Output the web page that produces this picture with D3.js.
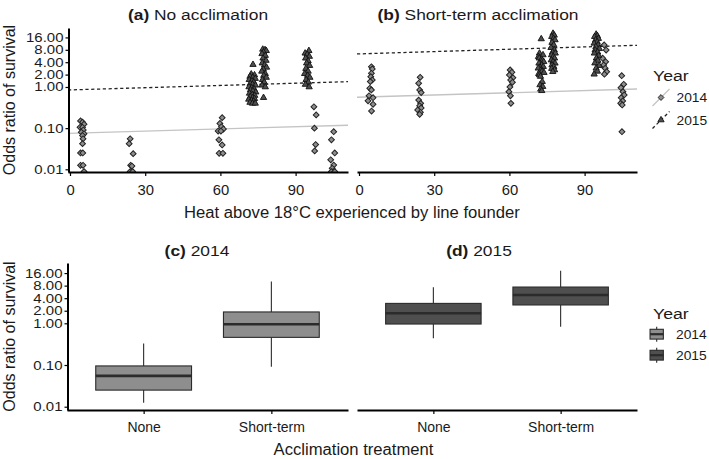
<!DOCTYPE html>
<html><head><meta charset="utf-8">
<script src="https://cdn.jsdelivr.net/npm/d3@7"></script>
<style>
body{margin:0;background:#fff}
svg{display:block}
text{font-family:"Liberation Sans",Arial,Helvetica,sans-serif;fill:#1a1a1a}
</style>
</head><body><svg id="chart" width="709" height="459"></svg>
<script>
// ---------------- DATA ----------------
const years = ["2014", "2015"];
const treatments = ["None", "Short-term"];
const heatTicks = [0, 30, 60, 90];
const oddsTicks = [0.01, 0.1, 1, 2, 4, 8, 16];
const oddsTickLabels = ["0.01", "0.10", "1.00", "2.00", "4.00", "8.00", "16.00"];

// (a) No acclimation — [heat, odds ratio]
const noAcc2014 = [
  [4.2,0.15],[5.0,0.14],[5.6,0.125],[4.0,0.105],[5.0,0.105],[5.3,0.09],[4.5,0.08],[5.6,0.073],
  [5.0,0.066],[5.2,0.055],[5.0,0.042],[4.2,0.025],[5.1,0.025],[4.2,0.0125],[5.2,0.0125],[5.6,0.0088],
  [24.0,0.055],[23.6,0.042],[25.2,0.024],[24.2,0.0125],[24.7,0.012],[24.0,0.0088],[25.0,0.0088],
  [60.7,0.18],[59.8,0.13],[60.4,0.108],[61.2,0.095],[59.1,0.085],[60.2,0.085],[59.4,0.052],
  [60.7,0.039],[59.5,0.0245],[61.0,0.0245],
  [97.3,0.33],[98.2,0.21],[97.5,0.1],[98.0,0.04],[97.6,0.028],
  [105.2,0.082],[104.3,0.052],[105.6,0.025],[104.0,0.017],[105.2,0.0127],[104.6,0.0106],
  [105.0,0.0088],[104.3,0.0088],[105.6,0.0088]
];
const noAcc2015 = [
  [73.0,3.5],[72.3,2.05],[73.6,1.95],[71.8,1.8],[72.9,1.7],[73.9,1.6],[71.5,1.5],[72.6,1.4],
  [73.3,1.3],[71.9,1.2],[72.8,1.15],[74.0,1.1],[71.4,1.0],[72.5,0.95],[73.4,0.9],[72.0,0.85],
  [73.0,0.8],[74.1,0.75],[71.6,0.7],[72.7,0.65],[73.7,0.62],[71.9,0.58],[72.9,0.55],[73.6,0.52],
  [71.3,0.5],[72.4,0.47],[73.3,0.45],[71.8,0.42],[72.8,0.4],[73.9,0.4],
  [76.9,8.2],[77.8,8.0],[78.3,7.6],[77.2,7.0],[76.6,6.4],[77.9,5.8],[77.0,5.0],[78.2,4.4],
  [76.7,3.8],[77.6,3.4],[78.4,3.0],[77.1,2.7],[76.5,2.4],[77.9,2.1],[77.3,1.9],[78.3,1.7],
  [76.8,1.5],[77.5,1.3],[76.6,1.1],[77.9,1.0],[77.2,0.55],
  [95.3,7.6],[93.8,6.6],[94.6,6.2],[95.5,5.5],[94.0,5.0],[95.0,4.3],[94.4,3.8],[95.6,3.3],
  [94.1,2.8],[95.0,2.4],[93.6,2.1],[94.8,1.9],[95.7,1.7],[94.2,1.5],[95.1,1.3],[93.9,1.15],[95.4,1.0]
];
// (b) Short-term acclimation — [heat, odds ratio]
const shortAcc2014 = [
  [4.95,3.1],[5.3,2.74],[4.95,2.15],[4.7,1.78],[5.3,1.48],[4.5,1.35],[4.3,0.93],[4.95,0.85],
  [4.0,0.61],[5.6,0.55],[3.6,0.46],[5.6,0.38],[5.0,0.26],
  [24.4,1.72],[23.8,1.23],[24.2,0.85],[24.8,0.73],[23.8,0.48],[24.6,0.40],[24.2,0.35],[24.8,0.31],
  [23.4,0.276],[24.5,0.243],[24.2,0.217],
  [60.3,2.59],[61.0,2.28],[60.0,1.96],[61.4,1.68],[60.5,1.48],[61.2,1.3],[60.2,1.0],[59.8,0.77],
  [60.4,0.61],[60.6,0.40],
  [97.8,10.5],[98.6,7.9],[97.2,5.0],[98.4,4.1],[97.6,3.43],[98.2,2.85],[98.8,2.35],[97.9,2.04],
  [104.8,1.88],[105.6,1.16],[104.5,0.96],[105.3,0.77],[105.8,0.64],[104.6,0.55],[105.2,0.457],
  [104.4,0.40],[105.0,0.365],[104.9,0.082]
];
const shortAcc2015 = [
  [72.7,14.7],[72.0,6.6],[73.4,6.0],[71.6,5.45],[71.9,5.0],[72.8,4.7],[73.2,4.4],[73.7,4.1],
  [71.8,3.77],[72.9,3.43],[73.5,3.12],[72.2,3.0],[71.5,2.85],[72.6,2.59],[73.0,2.4],[73.8,2.23],
  [71.7,2.1],[72.0,1.96],[72.4,1.8],[73.1,1.35],[72.2,1.12],[73.3,1.02],[72.5,0.88],[72.9,0.81],
  [77.4,20],[77.9,18],[76.9,16.7],[77.6,15],[78.2,13.9],[77.0,12],[77.7,10.5],[76.6,9],
  [77.9,7.9],[77.2,7],[78.3,6.6],[76.8,6],[77.5,5.45],[78.0,5],[76.7,4.5],[77.4,4.1],
  [78.2,3.77],[77.0,3.4],[77.7,3.12],[76.9,2.8],[78.0,2.59],[77.3,2.35],
  [94.6,19],[95.1,17.5],[94.0,16.7],[95.5,15],[94.4,13.9],[95.0,12.5],[93.8,11.5],[95.4,10.5],
  [94.5,9.5],[95.9,8.5],[94.2,7.9],[95.2,7],[93.9,6.6],[95.6,5.8],[94.7,5],[95.3,4.4],
  [94.1,3.8],[95.8,3.3],[94.6,2.85],[95.1,2.4],[93.8,2.04]
];
// fitted lines: log10(odds) = intercept + slope * heat, per year [2014, 2015]
const noAccIntercept = [-1.1236, -0.0716];
const noAccSlope = [0.00175, 0.00181];
const shortAccIntercept = [-0.2486, 0.8035];
const shortAccSlope = [0.0018, 0.00189];

// box plot stats per treatment [None, Short-term]: [lowWhisker, q1, median, q3, highWhisker]
const box2014 = [[0.0125, 0.025, 0.055, 0.095, 0.33], [0.091, 0.46, 0.95, 1.87, 10]];
const box2015 = [[0.44, 0.96, 1.74, 3.0, 7.3], [0.83, 2.75, 4.77, 7.4, 18.3]];

// ---------------- STYLE ----------------
const FILL_2014 = "#8e8e8e", FILL_2015 = "#4f4f4f", EDGE = "#2b2b2b";
const LINE_2014 = "#c4c4c4", LINE_2015 = "#222";

const svg = d3.select("#chart");

function label(g, x, y, parts, size, sx, anchor, rotate) {
  const t = g.append("text")
    .attr("transform", `translate(${x},${y})` + (rotate ? ` rotate(${rotate})` : "") + ` scale(${sx},1)`)
    .attr("text-anchor", anchor || "start")
    .style("font-size", size + "px");
  parts.forEach(p => t.append("tspan").style("font-weight", p[1] || "normal").text(p[0]));
  return t;
}
function styleAxis(ax, size, sx) {
  ax.select(".domain").attr("stroke", "#000").attr("stroke-width", 2);
  ax.selectAll(".tick line").attr("stroke", "#000").attr("stroke-width", 1.2);
  ax.selectAll(".tick text").style("font-size", size + "px").attr("fill", "#1a1a1a")
    .style("font-family", '"Liberation Sans",Arial,sans-serif')
    .each(function () {
      const el = d3.select(this);
      const x = +el.attr("x") || 0;
      el.attr("x", x / sx).attr("transform", `scale(${sx},1)`);
    });
}

const diamond = d3.symbol().type(d3.symbolSquare).size(17)();
const triangle = d3.symbol().type(d3.symbolTriangle).size(17)();

// ---------------- TOP PANELS ----------------
const yTop = d3.scaleLog().domain([0.0086, 27.1]).range([172, 28]);
const heatDomain = [-0.8, 110.9];
const topPanels = [
  { x0: 68, x1: 348, d14: noAcc2014, d15: noAcc2015, ic: noAccIntercept, sl: noAccSlope,
    title: [["(a) ", "bold"], ["No acclimation"]], tx: 198, yAxis: true, id: "a" },
  { x0: 357, x1: 637, d14: shortAcc2014, d15: shortAcc2015, ic: shortAccIntercept, sl: shortAccSlope,
    title: [["(b) ", "bold"], ["Short-term acclimation"]], tx: 478, yAxis: false, id: "b" }
];

topPanels.forEach(p => {
  const x = d3.scaleLinear().domain(heatDomain).range([p.x0, p.x1]);
  const g = svg.append("g");
  svg.append("clipPath").attr("id", "clip" + p.id).append("rect")
    .attr("x", p.x0).attr("y", 28).attr("width", p.x1 - p.x0).attr("height", 172 - 28);
  const pg = g.append("g").attr("clip-path", `url(#clip${p.id})`);
  // fitted lines
  years.forEach((yr, i) => {
    const pts = heatDomain.map(h => [h, Math.pow(10, p.ic[i] + p.sl[i] * h)]);
    pg.append("path")
      .attr("d", d3.line().x(d => x(d[0])).y(d => yTop(d[1]))(pts))
      .attr("fill", "none")
      .attr("stroke", i === 0 ? LINE_2014 : LINE_2015)
      .attr("stroke-width", 1.3)
      .attr("stroke-dasharray", i === 0 ? null : "3.2,2.6");
  });
  // points
  pg.selectAll(".p14").data(p.d14).join("path")
    .attr("d", diamond)
    .attr("transform", d => `translate(${x(d[0])},${yTop(d[1])}) rotate(45)`)
    .attr("fill", FILL_2014).attr("stroke", "#222").attr("stroke-width", 1);
  pg.selectAll(".p15").data(p.d15).join("path")
    .attr("d", triangle)
    .attr("transform", d => `translate(${x(d[0])},${yTop(d[1])})`)
    .attr("fill", FILL_2015).attr("stroke", "#111").attr("stroke-width", 0.9);
  // axes
  const ax = g.append("g").attr("transform", "translate(0,172)")
    .call(d3.axisBottom(x).tickValues(heatTicks).tickSize(4).tickPadding(9).tickSizeOuter(0));
  styleAxis(ax, 14, 1.06);
  if (p.yAxis) {
    const ay = g.append("g").attr("transform", `translate(${p.x0 + 0.5},0)`)
      .call(d3.axisLeft(yTop).tickValues(oddsTicks).tickFormat((d, i) => oddsTickLabels[i])
        .tickSize(3).tickPadding(2).tickSizeOuter(0));
    styleAxis(ay, 12.5, 1.2);
  }
  label(g, p.tx, 19.5, p.title, 15.4, 1.13, "middle");
});

label(svg, 15, 100, [["Odds ratio of survival"]], 16, 1, "middle", -90);
label(svg, 352, 217.5, [["Heat above 18°C experienced by line founder"]], 16, 1.04, "middle");

// top legend
(function () {
  const lg = svg.append("g");
  label(lg, 653, 80.7, [["Year"]], 14.5, 1.22, "start");
  years.forEach((yr, i) => {
    const cx = 661, cy = 97.5 + i * 22.5, h = 8.5;
    lg.append("line").attr("x1", cx - h).attr("y1", cy + h).attr("x2", cx + h).attr("y2", cy - h)
      .attr("stroke", i === 0 ? LINE_2014 : LINE_2015).attr("stroke-width", 1.3)
      .attr("stroke-dasharray", i === 0 ? null : "3.2,2.6");
    lg.append("path").attr("d", i === 0 ? diamond : triangle)
      .attr("transform", `translate(${cx},${cy})` + (i === 0 ? " rotate(45)" : ""))
      .attr("fill", i === 0 ? FILL_2014 : FILL_2015).attr("stroke", i === 0 ? "#222" : "#111").attr("stroke-width", 0.9);
    label(lg, 676.5, cy + 4.6, [[yr]], 12, 1.15, "start");
  });
})();

// ---------------- BOTTOM PANELS ----------------
const yBot = d3.scaleLog().domain([0.00834, 27.9]).range([410, 263]);
const botPanels = [
  { x0: 67, x1: 348, stats: box2014, fill: FILL_2014, title: [["(c) ", "bold"], ["2014"]], tx: 197, yAxis: true },
  { x0: 357, x1: 637, stats: box2015, fill: FILL_2015, title: [["(d) ", "bold"], ["2015"]], tx: 479, yAxis: false }
];
botPanels.forEach(p => {
  const x = d3.scalePoint().domain(treatments).range([p.x0, p.x1]).padding(0.6);
  const bw = x.step() * 0.75;
  const g = svg.append("g");
  const bx = g.selectAll(".box").data(p.stats).join("g")
    .attr("transform", (d, i) => `translate(${x(treatments[i])},0)`);
  bx.append("line").attr("x1", 0).attr("x2", 0).attr("y1", d => yBot(d[0])).attr("y2", d => yBot(d[1]))
    .attr("stroke", EDGE).attr("stroke-width", 1.1);
  bx.append("line").attr("x1", 0).attr("x2", 0).attr("y1", d => yBot(d[3])).attr("y2", d => yBot(d[4]))
    .attr("stroke", EDGE).attr("stroke-width", 1.1);
  bx.append("rect").attr("x", -bw / 2).attr("width", bw)
    .attr("y", d => yBot(d[3])).attr("height", d => yBot(d[1]) - yBot(d[3]))
    .attr("fill", p.fill).attr("stroke", EDGE).attr("stroke-width", 1.1);
  bx.append("line").attr("x1", -bw / 2).attr("x2", bw / 2).attr("y1", d => yBot(d[2])).attr("y2", d => yBot(d[2]))
    .attr("stroke", EDGE).attr("stroke-width", 2.6);
  const ax = g.append("g").attr("transform", "translate(0,410)")
    .call(d3.axisBottom(x).tickSize(4).tickPadding(8).tickSizeOuter(0));
  styleAxis(ax, 14, 1.0);
  if (p.yAxis) {
    const ay = g.append("g").attr("transform", `translate(${p.x0 + 0.5},0)`)
      .call(d3.axisLeft(yBot).tickValues(oddsTicks).tickFormat((d, i) => oddsTickLabels[i])
        .tickSize(3).tickPadding(2).tickSizeOuter(0));
    styleAxis(ay, 12.5, 1.2);
  }
  label(g, p.tx, 256, p.title, 15.4, 1.13, "middle");
});
label(svg, 15, 336.5, [["Odds ratio of survival"]], 16, 1, "middle", -90);
label(svg, 353.5, 455, [["Acclimation treatment"]], 16, 1.04, "middle");

// bottom legend
(function () {
  const lg = svg.append("g");
  label(lg, 653, 319.3, [["Year"]], 14.5, 1.22, "start");
  [FILL_2014, FILL_2015].forEach((f, i) => {
    const cx = 656.7, cy = 334.2 + i * 21, w = 13.3, h = 9.8;
    lg.append("line").attr("x1", cx).attr("x2", cx).attr("y1", cy - 7.5).attr("y2", cy + 7.5)
      .attr("stroke", EDGE).attr("stroke-width", 1.1);
    lg.append("rect").attr("x", cx - w / 2).attr("y", cy - h / 2).attr("width", w).attr("height", h)
      .attr("fill", f).attr("stroke", EDGE).attr("stroke-width", 1.1);
    lg.append("line").attr("x1", cx - w / 2).attr("x2", cx + w / 2).attr("y1", cy).attr("y2", cy)
      .attr("stroke", EDGE).attr("stroke-width", 2.2);
    label(lg, 676, cy + 4.6, [[years[i]]], 12, 1.15, "start");
  });
})();
</script>
</body></html>
